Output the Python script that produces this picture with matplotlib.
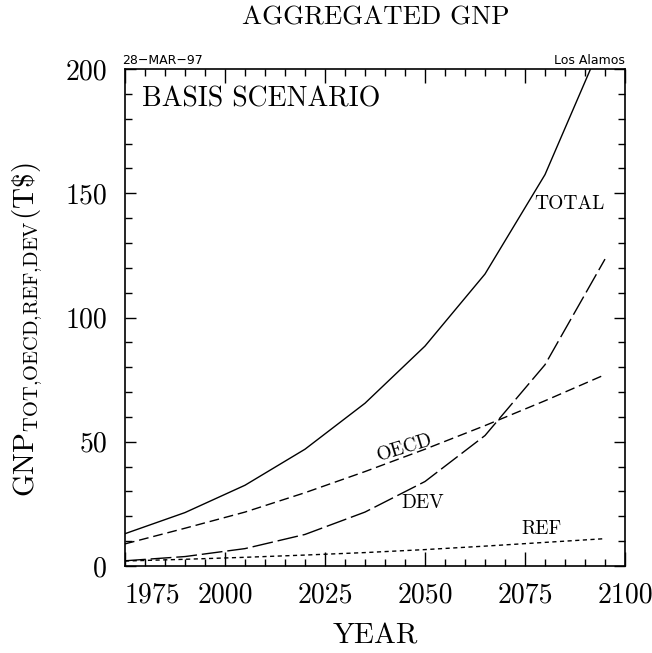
import matplotlib
matplotlib.use("Agg")
import matplotlib.pyplot as plt
from matplotlib.ticker import MultipleLocator

years = [1975, 1990, 2005, 2020, 2035, 2050, 2065, 2080, 2095]
total = [13.0, 21.5, 32.5, 47.0, 65.5, 88.5, 117.5, 157.5, 213.5]
oecd = [8.9, 15.2, 21.7, 29.5, 38.0, 47.0, 56.5, 66.5, 77.0]
dev = [2.1, 3.8, 7.0, 12.7, 21.7, 34.0, 52.5, 81.0, 123.5]
ref = [2.0, 2.7, 3.5, 4.4, 5.4, 6.6, 8.0, 9.5, 11.0]
xticks = [1975, 2000, 2025, 2050, 2075, 2100]
yticks = [0, 50, 100, 150, 200]

plt.rcParams['font.family'] = ['cmr10', 'DejaVu Serif']
plt.rcParams['mathtext.fontset'] = 'cm'
plt.rcParams['axes.formatter.use_mathtext'] = True

fig = plt.figure(figsize=(6.52, 6.53), dpi=100)
ax = fig.add_axes([125/652, 87/653, 500/652, 497/653])

ax.plot(years, total, color='black', lw=1.0, ls='-')
ax.plot(years, oecd, color='black', lw=1.0, dashes=(7, 3.5))
ax.plot(years, dev, color='black', lw=1.0, dashes=(15, 3.5))
ax.plot(years, ref, color='black', lw=1.0, dashes=(3, 2.5))

ax.set_xlim(1975, 2100)
ax.set_ylim(0, 200)
ax.set_xticks(xticks)
ax.set_xticklabels([str(v) for v in xticks])
ax.set_yticks(yticks)
ax.set_yticklabels([str(v) for v in yticks])
ax.xaxis.set_minor_locator(MultipleLocator(5))
ax.yaxis.set_minor_locator(MultipleLocator(10))
ax.tick_params(which='both', direction='in', top=True, right=True, width=1.0,
               labelsize=20)
ax.tick_params(axis='x', which='major', length=10, pad=12)
ax.tick_params(axis='x', which='minor', length=5)
ax.tick_params(axis='y', which='major', length=8, pad=13)
ax.tick_params(axis='y', which='minor', length=5)
for s in ax.spines.values():
    s.set_linewidth(1.2)
lbls = ax.get_xticklabels()
lbls[0].set_horizontalalignment('left')

ax.set_xlabel('YEAR', fontsize=21, labelpad=10)
ax.set_ylabel(r'$\mathrm{GNP}_{\mathrm{TOT{,}OECD{,}REF{,}DEV}}\mathrm{(T\$)}$', fontsize=21)
ax.yaxis.set_label_coords(-0.16, 0.475)
fig.text(375.5/652, 1 - 18/653, 'AGGREGATED GNP', ha='center', va='center', fontsize=19.3)

fig.text(122/652, 1 - 63.5/653, '28\u2212MAR\u221297', ha='left', va='baseline', fontsize=9,
         family='DejaVu Sans')
fig.text(625/652, 1 - 63.5/653, 'Los Alamos', ha='right', va='baseline', fontsize=9,
         family='DejaVu Sans')

ax.text(0.035, 0.965, 'BASIS SCENARIO', transform=ax.transAxes, ha='left', va='top', fontsize=20)
ax.text(2086, 145.5, 'TOTAL', ha='center', va='center', fontsize=14)
ax.text(2045, 47.5, 'OECD', ha='center', va='center', fontsize=14, rotation=17)
ax.text(2049.5, 25.5, 'DEV', ha='center', va='center', fontsize=14)
ax.text(2079, 14.7, 'REF', ha='center', va='center', fontsize=14)

fig.savefig('out.png', dpi=100)
